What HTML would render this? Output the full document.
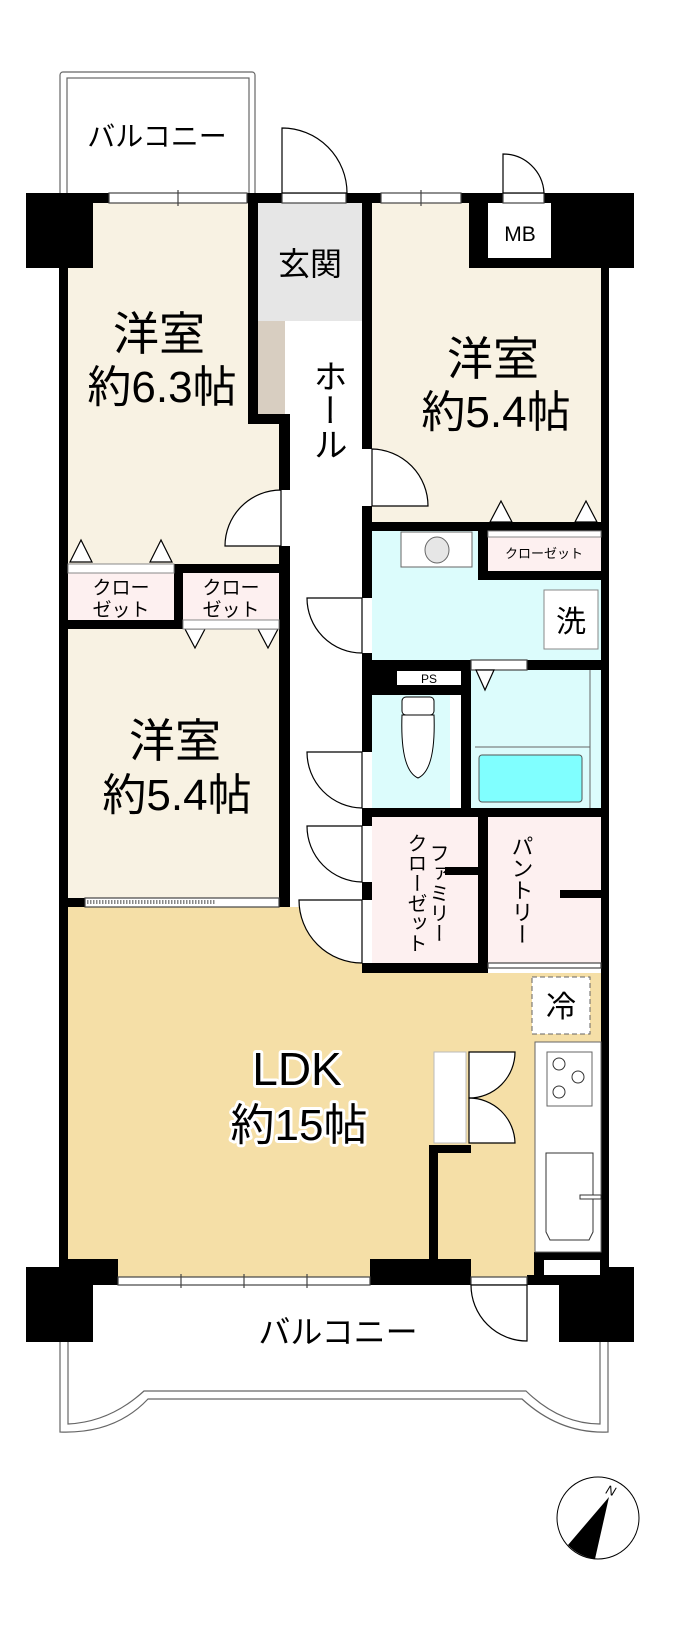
<!DOCTYPE html>
<html><head><meta charset="utf-8"><style>
html,body{margin:0;padding:0;background:#fff;}
svg{display:block;}
text{font-family:"Liberation Sans","Noto Sans CJK JP",sans-serif;fill:#000;}
.h{stroke:#fff;stroke-width:6;paint-order:stroke;stroke-linejoin:round;}
</style></head><body>
<svg width="683" height="1648" viewBox="0 0 683 1648" xmlns="http://www.w3.org/2000/svg">
<!-- top balcony -->
<rect x="60" y="72" width="195" height="130" rx="3" fill="none" stroke="#666" stroke-width="1.2"/>
<rect x="67" y="78" width="182" height="120" fill="none" stroke="#666" stroke-width="1.2"/>
<text x="157" y="146" font-size="28" text-anchor="middle">バルコニー</text>

<!-- fills -->
<path d="M68,203 H248 V424 H279 V564 H68 Z" fill="#f8f2e3"/>
<rect x="258" y="203" width="104" height="118" fill="#e6e6e6"/>
<rect x="258" y="321" width="27" height="95" fill="#d8cec1"/>
<rect x="290" y="321" width="72" height="586" fill="#fff"/>
<rect x="372" y="203" width="229" height="319" fill="#f8f2e3"/>
<rect x="372" y="531" width="229" height="129" fill="#dcfcfc"/>
<rect x="488" y="531" width="113" height="40" fill="#fdf0f0"/>
<rect x="68" y="573" width="106" height="47" fill="#fdf0f0"/>
<rect x="183" y="573" width="96" height="47" fill="#fdf0f0"/>
<rect x="68" y="629" width="211" height="269" fill="#f8f2e3"/>
<rect x="372" y="695" width="78" height="113" fill="#dcfcfc"/>
<rect x="450" y="695" width="11" height="113" fill="#fff"/>
<rect x="471" y="670" width="130" height="138" fill="#dcfcfc"/>
<rect x="372" y="817" width="106" height="146" fill="#fdf0f0"/>
<rect x="488" y="817" width="113" height="146" fill="#fdf0f0"/>
<rect x="68" y="907" width="294" height="370" fill="#f5dfa7"/>
<rect x="290" y="973" width="311" height="304" fill="#f5dfa7"/>

<!-- walls -->
<g fill="#000">
<rect x="26" y="193" width="67" height="75"/>
<rect x="93" y="193" width="16" height="10"/>
<rect x="247" y="193" width="35" height="10"/>
<rect x="346" y="193" width="35" height="10"/>
<rect x="461" y="193" width="42" height="10"/>
<rect x="469" y="193" width="165" height="75"/>
<rect x="59" y="268" width="9" height="999"/>
<rect x="601" y="268" width="8" height="999"/>
<rect x="248" y="193" width="10" height="231"/>
<rect x="248" y="414" width="42" height="10"/>
<rect x="279" y="414" width="11" height="493"/>
<rect x="362" y="193" width="10" height="780"/>
<rect x="372" y="522" width="229" height="9"/>
<rect x="478" y="522" width="10" height="58"/>
<rect x="478" y="571" width="123" height="9"/>
<rect x="279" y="564" width="11" height="9"/>
<rect x="174" y="564" width="116" height="9"/>
<rect x="174" y="573" width="9" height="56"/>
<rect x="59" y="620" width="124" height="9"/>
<rect x="279" y="620" width="11" height="9"/>
<rect x="372" y="660" width="237" height="10"/>
<rect x="372" y="660" width="99" height="35"/>
<rect x="461" y="660" width="10" height="148"/>
<rect x="372" y="808" width="237" height="9"/>
<rect x="478" y="817" width="10" height="156"/>
<rect x="362" y="963" width="126" height="10"/>
<rect x="59" y="898" width="231" height="9"/>
<rect x="429" y="1145" width="42" height="8"/>
<rect x="429" y="1145" width="9" height="132"/>
<rect x="59" y="1259" width="59" height="26"/>
<rect x="26" y="1267" width="67" height="75"/>
<rect x="370" y="1259" width="101" height="26"/>
<rect x="527" y="1275" width="40" height="10"/>
<rect x="534" y="1252" width="75" height="23"/>
<rect x="559" y="1267" width="75" height="75"/>
</g>
<!-- MB -->
<rect x="488" y="203" width="63" height="55" fill="#fff"/>
<text x="520" y="241" font-size="21" text-anchor="middle">MB</text>
<rect x="544" y="1260" width="56" height="15" fill="#fff"/>

<!-- windows -->
<g fill="#fff" stroke="#444" stroke-width="1.2">
<rect x="109" y="193" width="138" height="10"/>
<rect x="381" y="193" width="80" height="10"/>
<rect x="282" y="193" width="64" height="10"/>
<rect x="503" y="193" width="41" height="10"/>
<rect x="118" y="1277" width="252" height="8"/>
<rect x="471" y="1277" width="56" height="8"/>
<rect x="85" y="898" width="194" height="9"/>
<rect x="488" y="963" width="113" height="5"/>
<rect x="471" y="660" width="56" height="10"/>
</g>
<g stroke="#444" stroke-width="1.2">
<line x1="178" y1="190" x2="178" y2="206"/>
<line x1="421" y1="190" x2="421" y2="206"/>
<line x1="181" y1="1274" x2="181" y2="1288"/>
<line x1="244" y1="1274" x2="244" y2="1288"/>
<line x1="307" y1="1274" x2="307" y2="1288"/>
</g>
<line x1="87" y1="902" x2="216" y2="902" stroke="#888" stroke-width="4" stroke-dasharray="1.5 1.5"/>

<!-- door openings in walls -->
<g fill="#fff">
<rect x="362" y="449" width="10" height="57"/>
<rect x="279" y="490" width="11" height="56"/>
<rect x="362" y="598" width="10" height="55"/>
<rect x="362" y="752" width="10" height="56"/>
<rect x="362" y="826" width="10" height="56"/>
<rect x="362" y="900" width="10" height="63"/>
</g>
<!-- doors -->
<g fill="#fff" stroke="#000" stroke-width="1.2">
<path d="M282,193 V128 A65,65 0 0 1 347,193 Z"/>
<path d="M503,193 V154 A41,41 0 0 1 544,193 Z"/>
<path d="M372,506 H428 A57,57 0 0 0 372,449 Z"/>
<path d="M281,546 H225 A56,56 0 0 1 281,490 Z"/>
<path d="M362,598 H307 A55,55 0 0 0 362,653 Z"/>
<path d="M362,752 H307 A56,56 0 0 0 362,808 Z"/>
<path d="M362,826 H307 A56,56 0 0 0 362,882 Z"/>
<path d="M362,900 H299 A63,63 0 0 0 362,963 Z"/>
<path d="M527,1341 V1285 H471 A56,56 0 0 0 527,1341 Z"/>
</g>
<!-- closet triangles -->
<g fill="#fff" stroke="#000" stroke-width="1.2">
<path d="M81,540 L70,562 H92 Z"/>
<path d="M161,540 L150,562 H172 Z"/>
<path d="M501,501 L490,522 H512 Z"/>
<path d="M586,501 L575,522 H597 Z"/>
<path d="M185,629 L195,648 L205,629 Z"/>
<path d="M258,629 L268,648 L278,629 Z"/>
<path d="M476,670 L485,690 L494,670 Z"/>
</g>
<rect x="68" y="564" width="106" height="9" fill="#fff" stroke="#888"/>
<rect x="183" y="620" width="96" height="9" fill="#fff" stroke="#888"/>
<rect x="488" y="531" width="113" height="6" fill="#fff" stroke="#888"/>

<!-- wash room -->
<rect x="401" y="532" width="71" height="35" fill="#fff" stroke="#666"/>
<ellipse cx="437" cy="550" rx="12" ry="13" fill="#e6e6e6" stroke="#666"/>
<rect x="544" y="590" width="54" height="59" fill="#fff" stroke="#888"/>
<text x="571" y="632" font-size="30" text-anchor="middle">洗</text>
<rect x="397" y="671" width="64" height="14" fill="#fff"/>
<text x="429" y="683" font-size="12" text-anchor="middle">PS</text>
<!-- toilet -->
<rect x="402" y="697" width="32" height="18" rx="4" fill="#fff" stroke="#000"/>
<path d="M402,715 Q400,770 418,778 Q436,770 434,715 Z" fill="#fff" stroke="#000"/>
<!-- bath -->
<line x1="475" y1="747" x2="590" y2="747" stroke="#666"/>
<line x1="590" y1="670" x2="590" y2="808" stroke="#666"/>
<rect x="479" y="755" width="103" height="47" rx="3" fill="#80ffff" stroke="#555"/>
<!-- stubs -->
<rect x="445" y="867" width="33" height="8" fill="#000"/>
<rect x="560" y="890" width="41" height="8" fill="#000"/>

<!-- kitchen -->
<rect x="532" y="977" width="58" height="57" fill="#fff" stroke="#666" stroke-dasharray="5 3"/>
<text x="561" y="1017" font-size="30" text-anchor="middle">冷</text>
<rect x="535" y="1042" width="66" height="210" fill="#fff" stroke="#666"/>
<rect x="547" y="1052" width="45" height="54" fill="#fff" stroke="#666"/>
<g fill="none" stroke="#333"><circle cx="559" cy="1064" r="6"/><circle cx="578" cy="1077" r="6"/><circle cx="559" cy="1092" r="6"/></g>
<path d="M546,1153 H593 V1232 L589,1240 H550 L546,1232 Z" fill="#fff" stroke="#333"/>
<rect x="580" y="1195" width="21" height="4" fill="#fff" stroke="#333"/>
<rect x="434" y="1052" width="32" height="91" fill="#fff" stroke="#bbb"/>
<g fill="#fff" stroke="#000" stroke-width="1.2">
<path d="M469,1052 H515 A46,46 0 0 1 469,1098 Z"/>
<path d="M469,1143 H515 A46,46 0 0 0 469,1098 Z"/>
</g>

<!-- labels -->
<text x="159" y="350" font-size="46" text-anchor="middle">洋室</text>
<text x="162" y="402" font-size="44" text-anchor="middle">約6.3帖</text>
<text x="493" y="375" font-size="46" text-anchor="middle">洋室</text>
<text x="496" y="427" font-size="44" text-anchor="middle">約5.4帖</text>
<text x="175" y="757" font-size="46" text-anchor="middle">洋室</text>
<text x="177" y="810" font-size="44" text-anchor="middle">約5.4帖</text>
<text x="310" y="275" font-size="32" text-anchor="middle">玄関</text>
<text font-size="34" text-anchor="middle" x="327" y="410" style="writing-mode:vertical-rl">ホール</text>
<text x="544" y="558" font-size="13" text-anchor="middle">クローゼット</text>
<text x="121" y="594" font-size="19" text-anchor="middle">クロー</text>
<text x="121" y="616" font-size="19" text-anchor="middle">ゼット</text>
<text x="231" y="594" font-size="19" text-anchor="middle">クロー</text>
<text x="231" y="616" font-size="19" text-anchor="middle">ゼット</text>
<text x="437" y="843" font-size="20" style="writing-mode:vertical-rl">ファミリー</text>
<text x="415" y="833" font-size="20" style="writing-mode:vertical-rl">クローゼット</text>
<text x="521" y="835" font-size="22" style="writing-mode:vertical-rl">パントリー</text>
<text class="h" x="297" y="1085" font-size="46" text-anchor="middle">LDK</text>
<text class="h" x="299" y="1140" font-size="44" text-anchor="middle">約15帖</text>
<text x="338" y="1343" font-size="32" text-anchor="middle">バルコニー</text>

<!-- bottom balcony -->
<path d="M60,1342 V1432 Q115,1434 148,1399 H522 Q560,1434 608,1432 V1342" fill="none" stroke="#666" stroke-width="1.2"/>
<path d="M68,1342 V1424 Q110,1422 144,1391 H526 Q560,1424 600,1424 V1342" fill="none" stroke="#666" stroke-width="1.2"/>

<!-- compass -->
<ellipse cx="598" cy="1518" rx="41" ry="41" fill="#fff" stroke="#000" stroke-width="1"/>
<path d="M609,1497 L568,1545 Q578,1556 595,1559 Z" fill="#000"/>
<text x="611" y="1495" font-size="13" font-family="Liberation Serif" font-style="italic" text-anchor="middle" transform="rotate(20 611 1490)">N</text>
</svg>
</body></html>
